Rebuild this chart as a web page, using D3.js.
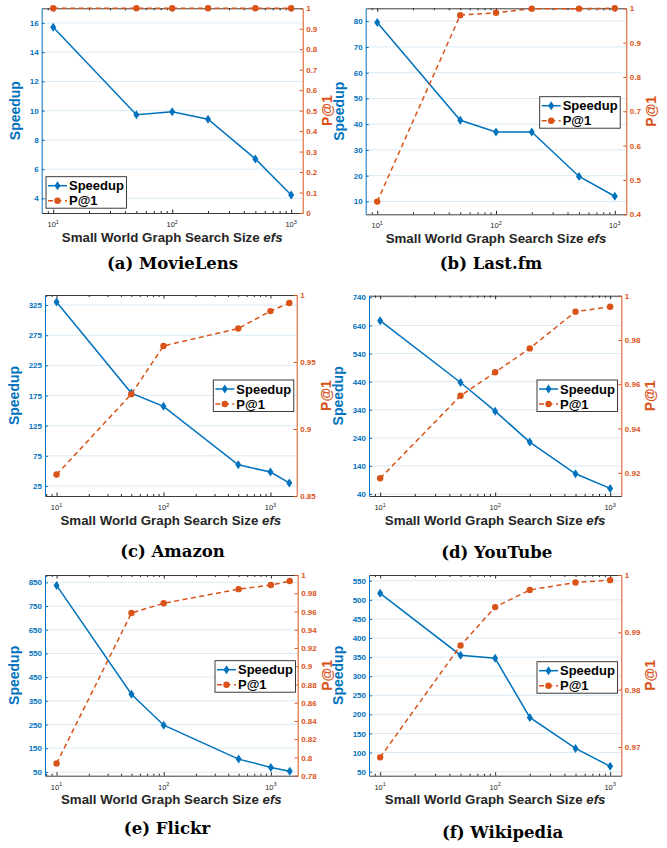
<!DOCTYPE html>
<html>
<head>
<meta charset="utf-8">
<script src="https://cdn.jsdelivr.net/npm/d3@7"></script>
<style>
  body { margin: 0; background: #fff; }
  svg text { font-family: "Liberation Sans", Arial, sans-serif; }
</style>
</head>
<body>
<div id="chart"></div>
<script>
// search sizes efs
var efsShort = [10, 50, 100, 200, 500, 1000];
var efsLong = [10, 50, 100, 500, 1000, 1500];
var xMajorTicks = [10, 100, 1000];

// speedup / P@1 per dataset
var speedupMovieLens = [15.7, 9.72, 9.93, 9.41, 6.7, 4.23];
var precMovieLens = [1, 1, 1, 1, 1, 1];
var speedupLastfm = [79.5, 41.5, 37, 37, 19.7, 12];
var precLastfm = [0.437, 0.980, 0.987, 0.999, 0.999, 1.0];
var speedupAmazon = [330, 179, 157, 60, 48, 30];
var precAmazon = [0.866, 0.926, 0.962, 0.975, 0.988, 0.994];
var speedupYouTube = [657, 437, 335, 225, 112, 60];
var precYouTube = [0.9175, 0.9548, 0.9654, 0.9762, 0.9928, 0.995];
var speedupFlickr = [837, 378, 247, 104, 69, 53];
var precFlickr = [0.7933, 0.9583, 0.969, 0.9845, 0.989, 0.9934];
var speedupWikipedia = [517, 355, 347, 192, 111, 64];
var precWikipedia = [0.9682, 0.9877, 0.9944, 0.9974, 0.9987, 0.9991];

// tick labels
var sTicksMovieLens = [4, 6, 8, 10, 12, 14, 16];
var pTicksMovieLens = [0, 0.1, 0.2, 0.3, 0.4, 0.5, 0.6, 0.7, 0.8, 0.9, 1];
var sTicksLastfm = [10, 20, 30, 40, 50, 60, 70, 80];
var pTicksLastfm = [0.4, 0.5, 0.6, 0.7, 0.8, 0.9, 1];
var sTicksAmazon = [25, 75, 125, 175, 225, 275, 325];
var pTicksAmazon = [0.85, 0.9, 0.95, 1];
var sTicksYouTube = [40, 140, 240, 340, 440, 540, 640, 740];
var pTicksYouTube = [0.92, 0.94, 0.96, 0.98, 1];
var sTicksFlickr = [50, 150, 250, 350, 450, 550, 650, 750, 850];
var pTicksFlickr = [0.78, 0.8, 0.82, 0.84, 0.86, 0.88, 0.9, 0.92, 0.94, 0.96, 0.98, 1];
var sTicksWikipedia = [50, 100, 150, 200, 250, 300, 350, 400, 450, 500, 550];
var pTicksWikipedia = [0.97, 0.98, 0.99, 1];

var captions = ["(a) MovieLens", "(b) Last.fm", "(c) Amazon", "(d) YouTube", "(e) Flickr", "(f) Wikipedia"];

var blue = "#0072BD", orange = "#D95319", dark = "#262626";

// layout: box = [left, top, right, bottom]
var panels = [
  {efs: efsShort, s: speedupMovieLens, p: precMovieLens, sTicks: sTicksMovieLens, pTicks: pTicksMovieLens,
   xDom: [8, 1250], sDom: [3, 17], pDom: [0, 1], box: [41.7, 8.3, 302.7, 213], legend: [46, 176.7], cap: [172.5, 268.5]},
  {efs: efsShort, s: speedupLastfm, p: precLastfm, sTicks: sTicksLastfm, pTicks: pTicksLastfm,
   xDom: [8, 1250], sDom: [5, 85], pDom: [0.4, 1], box: [365.7, 8.3, 626.3, 214.3], legend: [539.7, 96.7], cap: [491, 269.3]},
  {efs: efsLong, s: speedupAmazon, p: precAmazon, sTicks: sTicksAmazon, pTicks: pTicksAmazon,
   xDom: [7.8, 1760], sDom: [8.3, 341.7], pDom: [0.85, 1], box: [45, 295, 296.7, 496], legend: [213.3, 380], cap: [172.5, 557.3]},
  {efs: efsShort, s: speedupYouTube, p: precYouTube, sTicks: sTicksYouTube, pTicks: pTicksYouTube,
   xDom: [8, 1250], sDom: [33, 746], pDom: [0.9095, 1], box: [369, 295.7, 621.3, 496], legend: [537, 380], cap: [496.7, 558.3]},
  {efs: efsLong, s: speedupFlickr, p: precFlickr, sTicks: sTicksFlickr, pTicks: pTicksFlickr,
   xDom: [7.8, 1780], sDom: [34, 881], pDom: [0.78, 1], box: [45, 575, 297.7, 775.7], legend: [215, 660.7], cap: [167, 834.3]},
  {efs: efsShort, s: speedupWikipedia, p: precWikipedia, sTicks: sTicksWikipedia, pTicks: pTicksWikipedia,
   xDom: [8, 1250], sDom: [39.5, 565], pDom: [0.965, 1], box: [369, 575, 621.3, 775.7], legend: [537, 661.7], cap: [502.5, 837.5]}
];

var svg = d3.select("#chart")
  .append("svg")
    .attr("width", 667)
    .attr("height", 848);

var diamond = "M0,-4.5L3,0L0,4.5L-3,0Z";

panels.forEach(function(pn, i) {
  var L = pn.box[0], T = pn.box[1], R = pn.box[2], B = pn.box[3];
  var g = svg.append("g");

  var x = d3.scaleLog().domain(pn.xDom).range([L, R]);
  var yS = d3.scaleLinear().domain(pn.sDom).range([B, T]);
  var yP = d3.scaleLinear().domain(pn.pDom).range([B, T]);

  // horizontal grid at left ticks
  g.selectAll(".grid")
    .data(pn.sTicks)
    .enter()
    .append("line")
      .attr("x1", L).attr("x2", R)
      .attr("y1", function(d) { return yS(d); })
      .attr("y2", function(d) { return yS(d); })
      .style("stroke", blue)
      .style("stroke-opacity", 0.15)
      .style("stroke-width", 1);

  // minor log ticks
  var minor = [];
  [1, 10, 100, 1000].forEach(function(dec) {
    for (var k = 2; k <= 9; k++) {
      var v = k * dec;
      if (v > pn.xDom[0] && v < pn.xDom[1]) minor.push(v);
    }
  });

  // bottom axis
  var xb = g.append("g")
    .attr("transform", "translate(0," + B + ")")
    .call(d3.axisBottom(x).tickValues(xMajorTicks).tickSizeInner(-3.5).tickSizeOuter(0).tickFormat(""));
  xb.select(".domain").style("stroke", dark).style("stroke-width", 0.9);
  xb.selectAll("line").style("stroke", dark);
  g.append("g")
    .attr("transform", "translate(0," + B + ")")
    .call(d3.axisBottom(x).tickValues(minor).tickSizeInner(-2).tickSizeOuter(0).tickFormat(""))
    .call(function(a) { a.select(".domain").remove(); a.selectAll("line").style("stroke", dark); });

  // top edge
  var xt = g.append("g")
    .attr("transform", "translate(0," + T + ")")
    .call(d3.axisTop(x).tickValues(xMajorTicks).tickSizeInner(-3.5).tickSizeOuter(0).tickFormat(""));
  xt.select(".domain").style("stroke", dark).style("stroke-width", 0.9);
  xt.selectAll("line").style("stroke", dark);
  g.append("g")
    .attr("transform", "translate(0," + T + ")")
    .call(d3.axisTop(x).tickValues(minor).tickSizeInner(-2).tickSizeOuter(0).tickFormat(""))
    .call(function(a) { a.select(".domain").remove(); a.selectAll("line").style("stroke", dark); });

  // x tick labels 10^n
  g.selectAll(".xlab")
    .data(xMajorTicks)
    .enter()
    .append("text")
      .attr("x", function(d) { return x(d); })
      .attr("y", B + 14)
      .attr("text-anchor", "middle")
      .style("font-size", "7.5px")
      .style("fill", dark)
      .each(function(d) {
        var t = d3.select(this);
        t.append("tspan").text("10");
        t.append("tspan").attr("dy", -3.5).style("font-size", "5.5px").text(Math.round(Math.log10(d)));
      });

  // left axis
  var ya = g.append("g")
    .attr("transform", "translate(" + L + ",0)")
    .call(d3.axisLeft(yS).tickValues(pn.sTicks).tickSizeInner(-3).tickSizeOuter(0).tickPadding(3).tickFormat(d3.format("~g")));
  ya.select(".domain").style("stroke", blue).style("stroke-width", 1);
  ya.selectAll("line").style("stroke", blue);
  ya.selectAll("text").style("fill", blue).style("font-size", "8px").style("font-weight", "bold").style("font-family", "Liberation Sans, Arial, sans-serif");

  // right axis
  var yr = g.append("g")
    .attr("transform", "translate(" + R + ",0)")
    .call(d3.axisRight(yP).tickValues(pn.pTicks).tickSizeInner(-3).tickSizeOuter(0).tickPadding(3.5).tickFormat(d3.format("~g")));
  yr.select(".domain").style("stroke", orange).style("stroke-width", 1);
  yr.selectAll("line").style("stroke", orange);
  yr.selectAll("text").style("fill", orange).style("font-size", "8px").style("font-weight", "bold").style("font-family", "Liberation Sans, Arial, sans-serif");

  // bbox is local to the axis group, so shift by its translation
  var lb = ya.node().getBBox();
  var rb = yr.node().getBBox();

  // axis titles
  g.append("text")
    .attr("transform", "translate(" + (L + lb.x - 9.5) + "," + ((T + B) / 2) + ") rotate(-90)")
    .attr("text-anchor", "middle")
    .style("font-size", "14px")
    .style("font-weight", "bold")
    .style("fill", blue)
    .text("Speedup");

  g.append("text")
    .attr("transform", "translate(" + (R + rb.x + rb.width + 14.5) + "," + ((T + B) / 2) + ") rotate(-90)")
    .attr("text-anchor", "middle")
    .style("font-size", "14px")
    .style("font-weight", "bold")
    .style("fill", orange)
    .text("P@1");

  var xl = g.append("text")
    .attr("x", (L + R) / 2)
    .attr("y", B + 28.5)
    .attr("text-anchor", "middle")
    .style("font-size", "13.3px")
    .style("font-weight", "bold")
    .style("fill", dark);
  xl.append("tspan").text("Small World Graph Search Size ");
  xl.append("tspan").style("font-style", "italic").text("efs");

  // speedup line
  var sPts = pn.efs.map(function(e, j) { return [e, pn.s[j]]; });
  var pPts = pn.efs.map(function(e, j) { return [e, pn.p[j]]; });

  g.append("path")
    .datum(sPts)
    .attr("d", d3.line().x(function(d) { return x(d[0]); }).y(function(d) { return yS(d[1]); }))
    .style("fill", "none")
    .style("stroke", blue)
    .style("stroke-width", 1.5);

  g.selectAll(".sdot")
    .data(sPts)
    .enter()
    .append("path")
      .attr("d", diamond)
      .attr("transform", function(d) { return "translate(" + x(d[0]) + "," + yS(d[1]) + ")"; })
      .style("fill", blue);

  // P@1 line
  g.append("path")
    .datum(pPts)
    .attr("d", d3.line().x(function(d) { return x(d[0]); }).y(function(d) { return yP(d[1]); }))
    .style("fill", "none")
    .style("stroke", orange)
    .style("stroke-width", 1.5)
    .style("stroke-dasharray", "5,3.5");

  g.selectAll(".pdot")
    .data(pPts)
    .enter()
    .append("circle")
      .attr("cx", function(d) { return x(d[0]); })
      .attr("cy", function(d) { return yP(d[1]); })
      .attr("r", 3.2)
      .style("fill", orange);

  // legend
  var lg = g.append("g")
    .attr("transform", "translate(" + pn.legend[0] + "," + pn.legend[1] + ")");
  lg.append("rect")
    .attr("width", 80.5)
    .attr("height", 31.5)
    .style("fill", "white")
    .style("stroke", dark)
    .style("stroke-width", 0.9);
  lg.append("line").attr("x1", 2).attr("x2", 21).attr("y1", 9).attr("y2", 9)
    .style("stroke", blue).style("stroke-width", 1.5);
  lg.append("path").attr("d", diamond).attr("transform", "translate(11.5,9)").style("fill", blue);
  lg.append("line").attr("x1", 2).attr("x2", 21).attr("y1", 24).attr("y2", 24)
    .style("stroke", orange).style("stroke-width", 1.5).style("stroke-dasharray", "5,3.5");
  lg.append("circle").attr("cx", 11.5).attr("cy", 24).attr("r", 3.2).style("fill", orange);
  lg.append("text").attr("x", 23).attr("y", 9).attr("dy", "0.36em")
    .style("font-size", "13px").style("font-weight", "bold").style("fill", "#000").text("Speedup");
  lg.append("text").attr("x", 23).attr("y", 24).attr("dy", "0.36em")
    .style("font-size", "13px").style("font-weight", "bold").style("fill", "#000").text("P@1");

  // caption
  svg.append("text")
    .attr("x", pn.cap[0])
    .attr("y", pn.cap[1])
    .attr("text-anchor", "middle")
    .style("font-family", "DejaVu Serif, serif")
    .style("font-size", "16.5px")
    .style("font-weight", "bold")
    .style("fill", "#000")
    .text(captions[i]);
});
</script>
</body>
</html>
